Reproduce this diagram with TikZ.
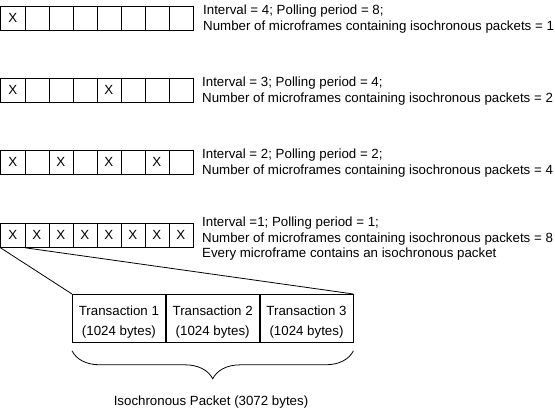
\documentclass[tikz,border=0pt]{standalone}
\usepackage{fontspec}
\setmainfont{Liberation Sans}
\usetikzlibrary{positioning,decorations.pathreplacing}

\tikzset{
  frame/.style={draw,line width=0.8pt,minimum width=24pt,minimum height=24pt,
    inner sep=0pt,anchor=north west,font=\fontsize{13.3}{16}\selectfont},
  info/.style={anchor=north west,align=left,inner sep=0pt,
    font=\fontsize{13.3}{15.2}\selectfont},
  txbox/.style={draw,line width=0.8pt,minimum width=93pt,minimum height=48pt,
    inner sep=0pt,align=center,font=\fontsize{13.3}{20}\selectfont},
  wire/.style={line width=0.8pt}
}
\newcommand{\txtop}{\rule{0pt}{17.5pt}}

\begin{document}
\begin{tikzpicture}[x=1pt,y=-1pt]
  \useasboundingbox (0,0) rectangle (555,412);

  % microframe rows
  \foreach \r/\ytop/\gap in {1/6/8, 2/78/4, 3/150/2, 4/223/1} {
    \foreach \c in {1,...,8} {
      \pgfmathtruncatemacro\m{mod(\c-1,\gap)}
      \ifnum\m=0 \def\lbl{X}\else\def\lbl{}\fi
      \node[frame] (f\r-\c) at ({(\c-1)*24+0.5},\ytop) {\lbl};
    }
  }

  \node[info] (txt1) at (203,5) {Interval = 4; Polling period = 8;\\Number of microframes containing isochronous packets = 1};
  \node[info] (txt2) at (202,77) {Interval = 3; Polling period = 4;\\Number of microframes containing isochronous packets = 2};
  \node[info] (txt3) at (202,149) {Interval = 2; Polling period = 2;\\Number of microframes containing isochronous packets = 4};
  \node[info] (txt4) at (202,217) {Interval =1; Polling period = 1;\\Number of microframes containing isochronous packets = 8\\Every microframe contains an isochronous packet};

  % isochronous packet
  \node[txbox,anchor=north west] (t1) at (72,294) {\txtop Transaction 1\\(1024 bytes)};
  \node[txbox,right=0pt of t1] (t2) {\txtop Transaction 2\\(1024 bytes)};
  \node[txbox,right=0pt of t2] (t3) {\txtop Transaction 3\\(1024 bytes)};

  \draw[wire] (f4-1.south west) -- (t1.north west);
  \draw[wire] (f4-1.south east) -- (t3.north east);

  \draw[wire,decorate,decoration={brace,mirror,amplitude=28pt}]
    ([yshift=-8pt]t1.south west) -- ([yshift=-8pt]t3.south east);
  \node[font=\fontsize{13.3}{16}\selectfont] (pkt) at (211,402) {Isochronous Packet (3072 bytes)};
\end{tikzpicture}
\end{document}
